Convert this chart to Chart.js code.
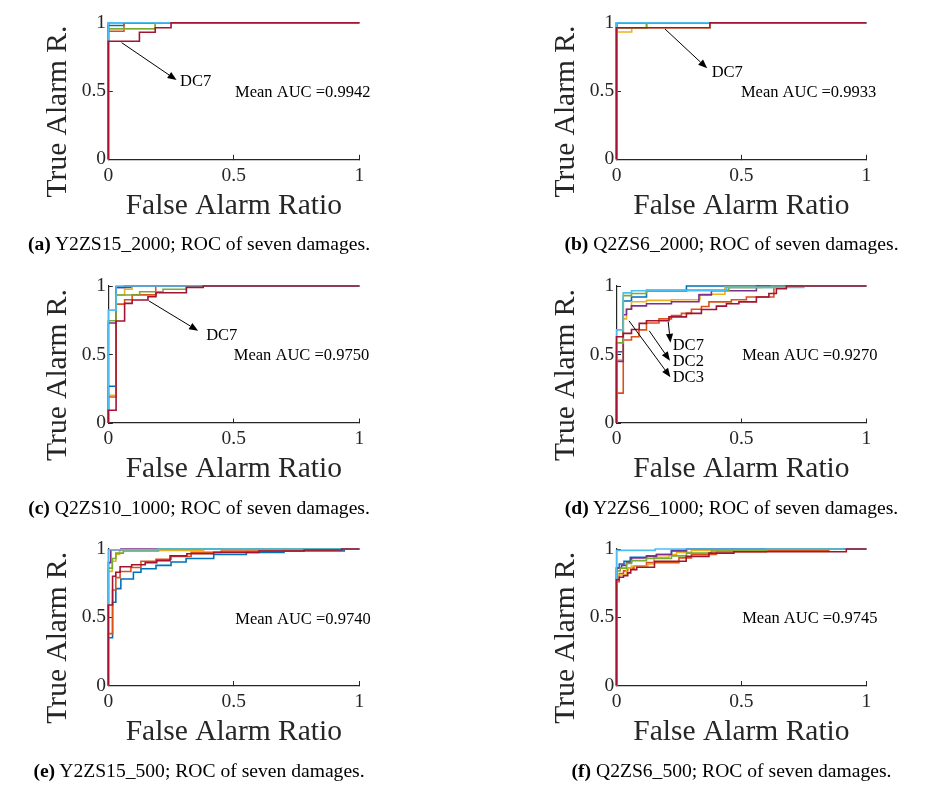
<!DOCTYPE html>
<html><head><meta charset="utf-8">
<script src="https://cdn.jsdelivr.net/npm/chart.js@4.4.1/dist/chart.umd.min.js"></script>
<style>
html,body{margin:0;padding:0;background:#fff;}
#wrap{position:relative;width:930px;height:793px;overflow:hidden;background:#fff;}
#wrap canvas{position:absolute;}
.cap{position:absolute;font-family:"Liberation Serif","Times New Roman",serif;font-size:19.6px;line-height:20px;color:#000;text-align:center;white-space:nowrap;}
</style></head><body><div id="wrap"></div>
<script>
// ---------- data ----------
const seriesNames = ['DC1','DC2','DC3','DC4','DC5','DC6','DC7'];
const xTicks = [0, 0.5, 1];
const yTicks = [0, 0.5, 1];
const tickLabels = ['0', '0.5', '1'];
const panelLetters = ['a','b','c','d','e','f'];
const caseNames = ['Y2ZS15_2000','Q2ZS6_2000','Q2ZS10_1000','Y2ZS6_1000','Y2ZS15_500','Q2ZS6_500'];
const meanAUC = ['0.9942','0.9933','0.9750','0.9270','0.9740','0.9745'];

// ROC curves (false alarm ratio, true alarm ratio), DC1..DC7
const fprA = [[0,0.0625,1],[0,0.0625,1],[0,0.187,1],[0,1],[0,0.187,1],[0,1],[0,0.124,0.187,0.25,1]];
const tprA = [[0,0.98,1],[0,0.937,1],[0,0.956,1],[0,1],[0,0.956,1],[0,1],[0,0.864,0.93,0.963,1]];

const fprB = [[0,1],[0,0.12,1],[0,0.061,0.374,1],[0,1],[0,0.121,1],[0,1],[0,0.374,1]];
const tprB = [[0,1],[0,0.963,1],[0,0.932,0.963,1],[0,1],[0,0.963,1],[0,1],[0,0.963,1]];

const fprC = [[0,0.031,0.095,1],[0,0.031,0.065,0.095,0.189,1],[0,0.031,0.065,0.095,1],[0,0.031,0.065,1],
  [0,0.031,0.125,0.218,0.311,1],[0,0.031,1],[0,0.031,0.065,0.095,0.158,0.19,0.311,0.378,1]];
const tprC = [[0,0.268,0.99,1],[0,0.19,0.868,0.9,0.935,1],[0,0.203,0.934,0.976,1],[0,0.73,0.99,1],
  [0,0.746,0.934,0.958,0.976,1],[0,0.824,1],[0,0.093,0.744,0.873,0.898,0.922,0.951,0.99,1]];

const fprD = [[0,0.027,0.06,0.12,0.28,1],
  [0,0.027,0.06,0.09,0.12,0.17,0.22,0.26,0.30,0.34,0.37,0.46,0.52,0.63,1],
  [0,0.027,0.04,0.06,0.12,0.22,0.334,0.434,0.58,1],
  [0,0.027,0.04,0.06,0.12,0.22,0.33,0.38,0.56,1],
  [0,0.027,0.06,0.12,0.45,0.62,1],
  [0,0.027,0.06,0.44,0.75,1],
  [0,0.027,0.06,0.091,0.12,0.21,0.28,0.34,0.40,0.44,0.49,0.56,0.61,0.64,0.68,1]];
const tprD = [[0,0.52,0.89,0.92,0.964,1],
  [0,0.218,0.606,0.63,0.68,0.73,0.76,0.785,0.80,0.83,0.85,0.884,0.90,0.92,1],
  [0,0.46,0.76,0.83,0.885,0.895,0.9,0.94,0.99,1],
  [0,0.45,0.79,0.83,0.855,0.87,0.885,0.935,0.965,1],
  [0,0.585,0.93,0.945,0.97,0.99,1],
  [0,0.68,0.95,0.965,0.99,1],
  [0,0.63,0.654,0.683,0.727,0.746,0.775,0.80,0.828,0.853,0.87,0.884,0.92,0.945,0.98,1]];

const fprE = [[0,0.017,0.03,0.05,0.1,0.13,0.19,0.25,0.31,0.42,0.55,0.7,0.94,1],
  [0,0.017,0.03,0.047,0.09,0.13,0.19,0.25,0.33,0.45,0.7,0.9,1],
  [0,0.016,0.03,0.045,0.38,1],
  [0,0.01,0.05,1],
  [0,0.016,0.03,0.06,0.2,1],
  [0,0.2,1],
  [0,0.017,0.03,0.047,0.093,0.147,0.193,0.246,0.313,0.42,0.6,0.78,0.93,1]];
const tprE = [[0,0.35,0.61,0.71,0.78,0.83,0.855,0.88,0.905,0.93,0.96,0.975,0.985,1],
  [0,0.38,0.70,0.79,0.835,0.865,0.91,0.925,0.945,0.975,0.985,0.993,1],
  [0,0.836,0.91,0.96,0.99,1],
  [0,0.9,0.995,1],
  [0,0.86,0.93,0.97,0.985,1],
  [0,0.995,1],
  [0,0.59,0.80,0.83,0.87,0.885,0.9,0.915,0.95,0.965,0.975,0.985,0.993,1]];

const fprF = [[0,0.011,0.03,0.055,0.12,0.16,0.22,0.28,1],
  [0,0.011,0.028,0.045,0.07,0.12,0.25,0.3,0.4,0.6,0.85,1],
  [0,0.04,0.06,0.125,0.15,0.21,0.24,0.3,0.6,1],
  [0,0.02,0.04,0.06,0.12,0.16,0.22,0.28,1],
  [0,0.015,0.04,0.06,0.12,0.22,0.28,0.38,0.6,1],
  [0,0.155,1],
  [0,0.011,0.028,0.045,0.057,0.081,0.152,0.279,0.37,0.47,0.92,1]];
const tprF = [[0,0.86,0.89,0.91,0.94,0.95,0.96,0.99,1],
  [0,0.76,0.82,0.84,0.86,0.875,0.9,0.935,0.96,0.98,0.99,1],
  [0,0.81,0.86,0.875,0.89,0.94,0.96,0.975,0.99,1],
  [0,0.86,0.88,0.9,0.935,0.945,0.96,0.985,1],
  [0,0.84,0.86,0.895,0.915,0.93,0.95,0.97,0.985,1],
  [0,0.99,1],
  [0,0.775,0.793,0.805,0.825,0.849,0.866,0.91,0.946,0.97,0.98,1]];

// annotation anchors in data units
const aucAnchor = [[0.505,0.485],[0.498,0.485],[0.50,0.488],[0.503,0.489],[0.506,0.485],[0.503,0.488]];
const arrowList = [
  [[0.053,0.854,0.272,0.58]],
  [[0.194,0.954,0.363,0.666]],
  [[0.161,0.892,0.358,0.673]],
  [[0.207,0.738,0.216,0.586],[0.131,0.673,0.214,0.455],[0.05,0.746,0.216,0.334]],
  [], []
];
const labelList = [
  [['DC7',0.286,0.566]],
  [['DC7',0.381,0.634]],
  [['DC7',0.39,0.634]],
  [['DC7',0.225,0.562],['DC2',0.225,0.446],['DC3',0.225,0.33]],
  [], []
];

// ---------- styles / layout ----------
const colors = ['#0072BD','#D95319','#EDB120','#7E2F8E','#77AC30','#4DBEEE','#A2142F'];
const FONT = '"Liberation Serif", "Times New Roman", serif';
const fprAll = [fprA,fprB,fprC,fprD,fprE,fprF];
const tprAll = [tprA,tprB,tprC,tprD,tprE,tprF];
const canW = 465, canH = 264;
const rowTop = [22.7, 22, 21], rowBottom = [159.3, 159, 157.5];
const colYW = [108.3, 151.5], colPadR = [105.7, 63.7];
const xAxisH = 64.4;

const annotPlugin = {
  id: 'annot',
  afterDatasetsDraw(chart, args, o) {
    const {ctx, scales:{x, y}} = chart;
    ctx.save();
    ctx.strokeStyle = '#000'; ctx.fillStyle = '#000'; ctx.lineWidth = 1;
    o.arrows.forEach(a => {
      const x0 = x.getPixelForValue(a[0]), y0 = y.getPixelForValue(a[1]);
      const x1 = x.getPixelForValue(a[2]), y1 = y.getPixelForValue(a[3]);
      const ang = Math.atan2(y1 - y0, x1 - x0);
      const L = 9, W = 3.6;
      const bx = x1 - L*Math.cos(ang), by = y1 - L*Math.sin(ang);
      ctx.beginPath(); ctx.moveTo(x0, y0); ctx.lineTo(bx, by); ctx.stroke();
      ctx.beginPath();
      ctx.moveTo(x1, y1);
      ctx.lineTo(bx + W*Math.sin(ang), by - W*Math.cos(ang));
      ctx.lineTo(bx - W*Math.sin(ang), by + W*Math.cos(ang));
      ctx.closePath(); ctx.fill();
    });
    ctx.font = '16.5px ' + FONT;
    ctx.textAlign = 'left'; ctx.textBaseline = 'middle';
    o.labels.forEach(l => ctx.fillText(l[0], x.getPixelForValue(l[1]), y.getPixelForValue(l[2])));
    ctx.fillText(o.auc, x.getPixelForValue(o.aucPos[0]), y.getPixelForValue(o.aucPos[1]));
    ctx.restore();
  },
  afterDraw(chart, args, o) {
    const {ctx, chartArea} = chart;
    ctx.save();
    ctx.font = '29.5px ' + FONT;
    ctx.fillStyle = '#262626';
    ctx.translate(chartArea.left - 50.3, (chartArea.top + chartArea.bottom)/2 + 20.5);
    ctx.rotate(-Math.PI/2);
    ctx.textAlign = 'center'; ctx.textBaseline = 'middle';
    ctx.fillText(o.yTitle, 0, 0);
    ctx.restore();
  }
};

const wrap = document.getElementById('wrap');
panelLetters.forEach((letter, p) => {
  const col = p % 2, row = Math.floor(p / 2);
  const cv = document.createElement('canvas');
  cv.width = canW; cv.height = canH;
  cv.style.left = (col * canW) + 'px'; cv.style.top = (row * canH) + 'px';
  cv.style.width = canW + 'px'; cv.style.height = canH + 'px';
  wrap.appendChild(cv);

  const datasets = fprAll[p].map((xs, i) => ({
    label: seriesNames[i],
    data: xs.map((v, k) => ({x: v, y: tprAll[p][i][k]})),
    borderColor: colors[i], backgroundColor: colors[i],
    borderWidth: 1.6, pointRadius: 0, stepped: 'after', fill: false,
    order: 6 - i, clip: 3
  }));

  const tickFont = {family: FONT, size: 19.5};
  new Chart(cv, {
    type: 'line',
    data: {datasets},
    options: {
      responsive: false, animation: false, events: [],
      layout: {padding: {left: 0, top: rowTop[row], right: colPadR[col], bottom: canH - rowBottom[row] - xAxisH}},
      plugins: {
        legend: {display: false}, tooltip: {enabled: false},
        annot: {arrows: arrowList[p], labels: labelList[p], auc: 'Mean AUC =' + meanAUC[p], aucPos: aucAnchor[p], yTitle: 'True Alarm R.'}
      },
      scales: {
        x: {
          type: 'linear', min: 0, max: 1,
          afterBuildTicks: s => { s.ticks = xTicks.map(v => ({value: v})); },
          afterFit: s => { s.height = xAxisH; },
          ticks: {callback: (v, i) => tickLabels[i], font: tickFont, color: '#262626', padding: 8.9, maxRotation: 0, autoSkip: false},
          grid: {display: true, drawOnChartArea: false, drawTicks: true, tickLength: -4.5, color: '#262626', lineWidth: 1},
          border: {display: true, color: '#262626', width: 1.2},
          title: {display: true, text: 'False Alarm Ratio', font: {family: FONT, size: 29.5}, color: '#262626', padding: 0}
        },
        y: {
          type: 'linear', min: 0, max: 1,
          afterBuildTicks: s => { s.ticks = yTicks.map(v => ({value: v})); },
          afterFit: s => { s.width = colYW[col]; },
          ticks: {callback: (v, i) => tickLabels[i], font: tickFont, color: '#262626', padding: 6.8, autoSkip: false},
          grid: {display: true, drawOnChartArea: false, drawTicks: true, tickLength: -4.5, color: '#262626', lineWidth: 1},
          border: {display: true, color: '#262626', width: 1.2}
        }
      }
    },
    plugins: [annotPlugin]
  });

  const cap = document.createElement('div');
  cap.className = 'cap';
  cap.style.left = (col === 0 ? 0 : 533) + 'px';
  cap.style.width = (col === 0 ? 398 : 397) + 'px';
  cap.style.top = (234.3 + row * 263.5) + 'px';
  const b = document.createElement('b');
  b.textContent = '(' + letter + ')';
  cap.appendChild(b);
  cap.appendChild(document.createTextNode(' ' + caseNames[p] + '; ROC of seven damages.'));
  wrap.appendChild(cap);
});
</script></body></html>
